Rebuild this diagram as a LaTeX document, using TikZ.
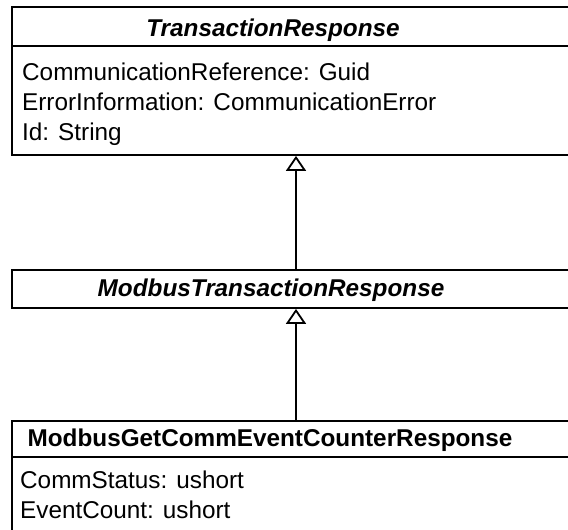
\documentclass[tikz,border=0pt]{standalone}
\usepackage{fontspec}
\setmainfont{Liberation Sans}
\usetikzlibrary{arrows.meta,positioning}

\begin{document}
\begin{tikzpicture}[
  x=1pt, y=-1pt,
  font=\fontsize{24.3}{30}\selectfont,
  cls/.style={draw, line width=1.8pt, minimum width=568pt, inner sep=0pt},
  abstitle/.style={anchor=base, inner sep=0pt, font=\fontsize{24.3}{30}\selectfont\bfseries\itshape},
  contitle/.style={anchor=base, inner sep=0pt, font=\fontsize{24.3}{30}\selectfont\bfseries},
  attr/.style={anchor=base west, inner sep=0pt, align=left},
  inherit/.style={-{Triangle[open, length=15pt, width=20pt]}, line width=1.8pt}
]
\useasboundingbox (0,0) rectangle (568,530);
% TransactionResponse
\node[cls, minimum height=39pt] (trname) at (296,26.5) {};
\node[cls, minimum height=109pt] (trattr) at (296,100.5) {};
\node[abstitle] (trtitle) at (273,36) {TransactionResponse};
\node[attr] (trtext) at (22,140.5) {CommunicationReference: Guid\\ErrorInformation: CommunicationError\\Id: String};
% ModbusTransactionResponse
\node[cls, minimum height=38pt] (mtrname) at (296,289) {};
\node[abstitle] (mtrtitle) at (271,296) {ModbusTransactionResponse};
% ModbusGetCommEventCounterResponse
\node[cls, minimum height=36pt] (gcname) at (296,439) {};
\node[cls, minimum height=120pt] (gcattr) at (296,517) {};
\node[contitle] (gctitle) at (270,446) {ModbusGetCommEventCounterResponse};
\node[attr] (gctext) at (20,518) {CommStatus: ushort\\EventCount: ushort};
% generalisation
\draw[inherit] (mtrname.north) -- (trattr.south);
\draw[inherit] (gcname.north) -- (mtrname.south);
\end{tikzpicture}
\end{document}
